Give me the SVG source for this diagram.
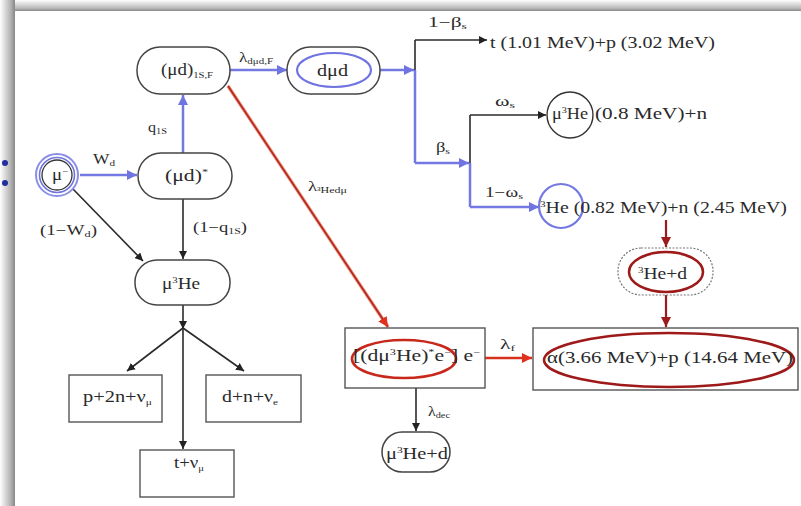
<svg xmlns="http://www.w3.org/2000/svg" width="801" height="506" viewBox="0 0 801 506">
<defs>
<linearGradient id="gTop" x1="0" y1="0" x2="0" y2="1"><stop offset="0" stop-color="#ffffff"/><stop offset="0.3" stop-color="#e2e2e2"/><stop offset="0.75" stop-color="#b8b8b8"/><stop offset="1" stop-color="#8a8a8a"/></linearGradient>
<linearGradient id="gLeft" x1="0" y1="0" x2="1" y2="0"><stop offset="0" stop-color="#ffffff"/><stop offset="0.25" stop-color="#e4e4e4"/><stop offset="0.7" stop-color="#b4b4b4"/><stop offset="1" stop-color="#878787"/></linearGradient>
<marker id="ak" viewBox="0 0 10 10" refX="10" refY="5" markerWidth="8" markerHeight="8" orient="auto" markerUnits="userSpaceOnUse"><path d="M0,0 L10,5 L0,10 z" fill="#222"/></marker>
<marker id="ab" viewBox="0 0 10 10" refX="10" refY="5" markerWidth="10" markerHeight="10" orient="auto" markerUnits="userSpaceOnUse"><path d="M0,0 L10,5 L0,10 z" fill="#6f74e0"/></marker>
<marker id="ar" viewBox="0 0 10 10" refX="10" refY="5" markerWidth="10" markerHeight="10" orient="auto" markerUnits="userSpaceOnUse"><path d="M0,0 L10,5 L0,10 z" fill="#e0301e"/></marker>
<marker id="ad" viewBox="0 0 10 10" refX="10" refY="5" markerWidth="10" markerHeight="10" orient="auto" markerUnits="userSpaceOnUse"><path d="M0,0 L10,5 L0,10 z" fill="#9e1a1a"/></marker>
</defs>
<style>
text{font-family:"Liberation Serif","Times New Roman",serif;fill:#2a2a2a;}
.t{font-size:16px;}
.l{font-size:14px;}
.s{font-size:9px;}
.node{fill:#fff;stroke:#444;stroke-width:1.5;}
.box{fill:#fff;stroke:#555;stroke-width:1.4;}
.k{stroke:#2a2a2a;stroke-width:1.6;fill:none;}
.b{stroke:#7378e2;stroke-width:2.5;fill:none;}
.r{stroke:#d8321e;stroke-width:2.6;fill:none;}
.dr{stroke:#9e1a1a;stroke-width:2.2;fill:none;}
</style>
<rect x="0" y="0" width="801" height="506" fill="#fff"/>
<rect x="0" y="0" width="801" height="11" fill="url(#gTop)"/>
<rect x="0" y="0" width="15" height="506" fill="url(#gLeft)"/>
<circle cx="5" cy="163" r="3" fill="#1f2fa0"/>
<circle cx="5" cy="183" r="3" fill="#1f2fa0"/>

<g id="connectors">
<line class="b" x1="80" y1="175" x2="137" y2="175" marker-end="url(#ab)"/>
<line class="b" x1="183" y1="153" x2="183" y2="95" marker-end="url(#ab)"/>
<line class="b" x1="230" y1="70" x2="287" y2="70" marker-end="url(#ab)"/>
<line class="b" x1="380" y1="70" x2="414" y2="70" marker-end="url(#ab)"/>
<line class="k" x1="415" y1="70" x2="415" y2="40"/>
<line class="k" x1="415" y1="40" x2="487" y2="40" marker-end="url(#ak)"/>
<line class="b" x1="415" y1="70" x2="415" y2="163"/>
<line class="b" x1="415" y1="163" x2="469" y2="163" marker-end="url(#ab)"/>
<line class="k" x1="470" y1="163" x2="470" y2="115"/>
<line class="k" x1="470" y1="115" x2="546" y2="115" marker-end="url(#ak)"/>
<line class="b" x1="470" y1="163" x2="470" y2="207"/>
<line class="b" x1="470" y1="207" x2="539" y2="207" marker-end="url(#ab)"/>
<line class="k" x1="73" y1="189" x2="143" y2="261" marker-end="url(#ak)"/>
<line class="k" x1="183" y1="199" x2="183" y2="259" marker-end="url(#ak)"/>
<line class="k" x1="183" y1="305" x2="183" y2="329" marker-end="url(#ak)"/>
<line class="k" x1="183" y1="328" x2="127" y2="371" marker-end="url(#ak)"/>
<line class="k" x1="183" y1="328" x2="244" y2="371" marker-end="url(#ak)"/>
<line class="k" x1="183" y1="328" x2="183" y2="449" marker-end="url(#ak)"/>
<line x1="228" y1="86" x2="388" y2="327" stroke="#f07a6a" stroke-width="3.2"/>
<line x1="228" y1="86" x2="388" y2="327" stroke="#a8281c" stroke-width="1.4" marker-end="url(#ar)"/>
<line class="r" x1="485" y1="358" x2="532" y2="358" marker-end="url(#ar)"/>
<line class="k" x1="416" y1="388" x2="416" y2="431" marker-end="url(#ak)"/>
<line class="dr" x1="666" y1="220" x2="666" y2="247" marker-end="url(#ad)"/>
<line class="dr" x1="666" y1="295" x2="666" y2="327" marker-end="url(#ad)"/>
</g>

<g id="labels">
<text class="l" x="239" y="62" textLength="34" lengthAdjust="spacingAndGlyphs">λ<tspan class="s" dy="2">dμd,F</tspan></text>
<text class="l" x="148" y="132" textLength="19" lengthAdjust="spacingAndGlyphs">q<tspan class="s" dy="2">1S</tspan></text>
<text class="l" x="93" y="164" textLength="22" lengthAdjust="spacingAndGlyphs">W<tspan class="s" dy="2">d</tspan></text>
<text class="l" x="40" y="235" textLength="57" lengthAdjust="spacingAndGlyphs">(1−W<tspan class="s" dy="2">d</tspan><tspan dy="-2">)</tspan></text>
<text class="l" x="193" y="232" textLength="54" lengthAdjust="spacingAndGlyphs">(1−q<tspan class="s" dy="2">1S</tspan><tspan dy="-2">)</tspan></text>
<text class="l" x="308" y="191" textLength="39" lengthAdjust="spacingAndGlyphs">λ<tspan class="s" dy="2">³Hedμ</tspan></text>
<text class="l" x="428" y="27" textLength="39" lengthAdjust="spacingAndGlyphs">1−β<tspan class="s" dy="2">s</tspan></text>
<text class="l" x="436" y="152" textLength="14" lengthAdjust="spacingAndGlyphs">β<tspan class="s" dy="2">s</tspan></text>
<text class="l" x="495" y="106" textLength="20" lengthAdjust="spacingAndGlyphs">ω<tspan class="s" dy="2">s</tspan></text>
<text class="l" x="485" y="197" textLength="38" lengthAdjust="spacingAndGlyphs">1−ω<tspan class="s" dy="2">s</tspan></text>
<text class="l" x="500" y="349" textLength="15" lengthAdjust="spacingAndGlyphs">λ<tspan class="s" dy="2">f</tspan></text>
<text class="l" x="428" y="416" textLength="22" lengthAdjust="spacingAndGlyphs">λ<tspan class="s" dy="2">dec</tspan></text>
</g>

<g id="mu">
<circle cx="57" cy="175" r="21" fill="#fff" stroke="#8a8ee6" stroke-width="2"/>
<circle cx="57" cy="175" r="17.5" fill="none" stroke="#6f74e0" stroke-width="1.6"/>
<circle cx="57" cy="175" r="15" fill="none" stroke="#333" stroke-width="1.3"/>
<text class="t" x="52" y="180" textLength="16" lengthAdjust="spacingAndGlyphs">μ<tspan class="s" dy="-6">−</tspan></text>
</g>
<g id="mud_star">
<rect class="node" x="138" y="153" width="94" height="46" rx="23"/>
<text class="t" x="165" y="181" textLength="43" lengthAdjust="spacingAndGlyphs">(μd)<tspan class="s" dy="-6">*</tspan></text>
</g>
<g id="mud_1s">
<rect class="node" x="137" y="47" width="93" height="47" rx="23"/>
<text class="t" x="161" y="75" textLength="52" lengthAdjust="spacingAndGlyphs">(μd)<tspan class="s" dy="3">1S,F</tspan></text>
</g>
<g id="dmud">
<rect class="node" x="287" y="47" width="93" height="47" rx="23" stroke="#666"/>
<ellipse cx="334" cy="70" rx="37" ry="17" fill="none" stroke="#6f74e0" stroke-width="2.2"/>
<text class="t" x="317" y="76" textLength="31" lengthAdjust="spacingAndGlyphs">dμd</text>
</g>
<g id="mu3he">
<rect class="node" x="135" y="260" width="95" height="45" rx="22"/>
<text class="t" x="162" y="289" textLength="38" lengthAdjust="spacingAndGlyphs">μ<tspan class="s" dy="-6">3</tspan><tspan dy="6">He</tspan></text>
</g>
<g id="p2n">
<rect class="box" x="69" y="375" width="93" height="47"/>
<text class="t" x="83" y="402" textLength="69" lengthAdjust="spacingAndGlyphs">p+2n+ν<tspan class="s" dy="3">μ</tspan></text>
</g>
<g id="dn">
<rect class="box" x="206" y="375" width="95" height="47"/>
<text class="t" x="222" y="402" textLength="56" lengthAdjust="spacingAndGlyphs">d+n+ν<tspan class="s" dy="3">e</tspan></text>
</g>
<g id="tnu">
<rect class="box" x="140" y="450" width="94" height="47"/>
<text class="t" x="174" y="468" textLength="30" lengthAdjust="spacingAndGlyphs">t+ν<tspan class="s" dy="3">μ</tspan></text>
</g>
<g id="t_p">
<text class="t" x="490" y="48" textLength="225" lengthAdjust="spacingAndGlyphs">t (1.01 MeV)+p (3.02 MeV)</text>
</g>
<g id="mu3he_n">
<ellipse cx="570" cy="115" rx="23" ry="23" fill="#fff" stroke="#333" stroke-width="1.4"/>
<text class="t" x="552" y="119" textLength="36" lengthAdjust="spacingAndGlyphs">μ<tspan class="s" dy="-6">3</tspan><tspan dy="6">He</tspan></text>
<text class="t" x="595" y="119" textLength="112" lengthAdjust="spacingAndGlyphs">(0.8 MeV)+n</text>
</g>
<g id="he3_n">
<circle cx="561" cy="206" r="22" fill="none" stroke="#7378e2" stroke-width="2.2"/>
<text class="t" x="540" y="213" textLength="247" lengthAdjust="spacingAndGlyphs"><tspan class="s" dy="-6">3</tspan><tspan dy="6">He (0.82 MeV)+n (2.45 MeV)</tspan></text>
</g>
<g id="he3d">
<rect x="618" y="248" width="95" height="47" rx="23" fill="#fff" stroke="#777" stroke-width="1.2" stroke-dasharray="2,1.5"/>
<ellipse cx="666" cy="272" rx="37" ry="20" fill="none" stroke="#9e1a1a" stroke-width="2.6"/>
<text class="t" x="638" y="279" textLength="49" lengthAdjust="spacingAndGlyphs"><tspan class="s" dy="-6">3</tspan><tspan dy="6">He+d</tspan></text>
</g>
<g id="dmu3he">
<rect class="box" x="345" y="328" width="140" height="60"/>
<ellipse cx="404" cy="359" rx="52" ry="19" fill="none" stroke="#c8281c" stroke-width="2.6"/>
<text class="t" x="353" y="361" textLength="127" lengthAdjust="spacingAndGlyphs">[(dμ<tspan class="s" dy="-6">3</tspan><tspan dy="6">He)</tspan><tspan class="s" dy="-6">*</tspan><tspan dy="6">e</tspan><tspan class="s" dy="-6">−</tspan><tspan dy="6">] e</tspan><tspan class="s" dy="-6">−</tspan></text>
</g>
<g id="mu3hed">
<rect class="node" x="382" y="432" width="68" height="40" rx="20"/>
<text class="t" x="386" y="459" textLength="62" lengthAdjust="spacingAndGlyphs">μ<tspan class="s" dy="-6">3</tspan><tspan dy="6">He+d</tspan></text>
</g>
<g id="alpha">
<rect class="box" x="533" y="328" width="265" height="62"/>
<ellipse cx="669" cy="360" rx="125" ry="27" fill="none" stroke="#9e1a1a" stroke-width="2.6"/>
<text class="t" x="547" y="363" textLength="246" lengthAdjust="spacingAndGlyphs">α(3.66 MeV)+p (14.64 MeV)</text>
</g>
</svg>
